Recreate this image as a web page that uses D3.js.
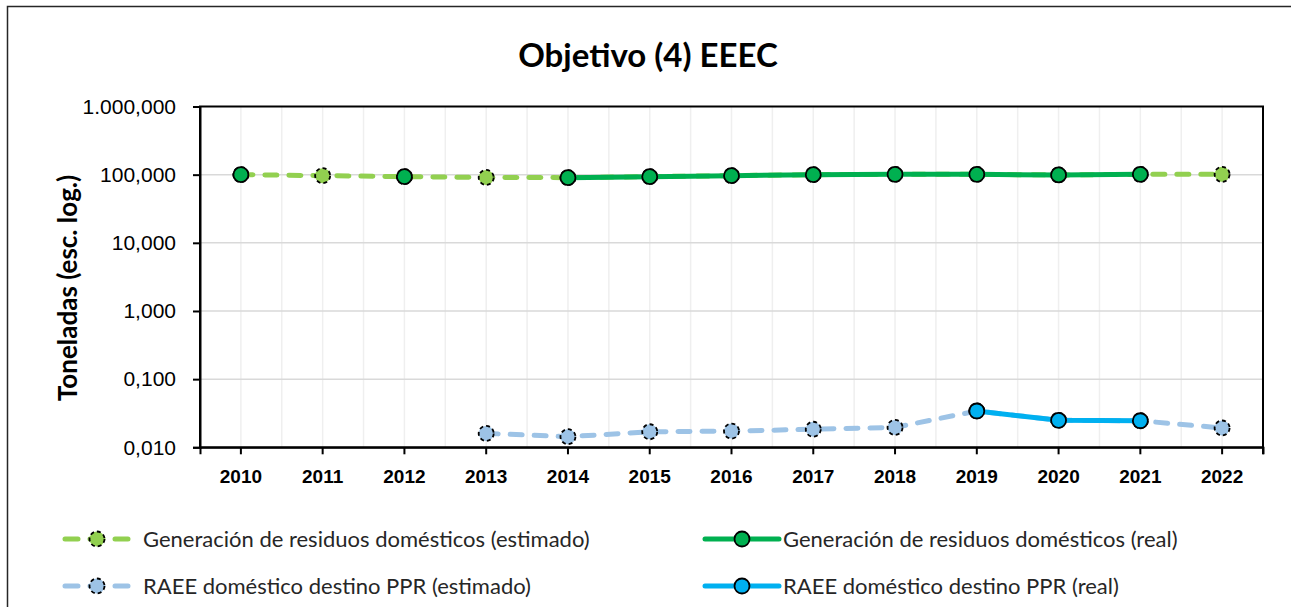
<!DOCTYPE html>
<html>
<head>
<meta charset="utf-8">
<script src="https://cdn.jsdelivr.net/npm/d3@7"></script>
<style>
	body { margin: 0; background: #fff; }
	svg { display: block; font-family: Lato, "Open Sans", sans-serif; }
</style>
</head>
<body>
<svg id="chart" width="1291" height="607"></svg>
<script>
// Data (tonnes, log scale)
const years = [2010, 2011, 2012, 2013, 2014, 2015, 2016, 2017, 2018, 2019, 2020, 2021, 2022];
const genEstimado = [100, 96.7, 93.5, 91, 90.4, 93.5, 96.7, 100, 101, 101, 99, 101, 101];
const genReal = [100, null, 93.5, null, 90.4, 93.5, 96.7, 100, 101, 101, 99, 101, null];
const raeeEstimado = [null, null, null, 0.0160, 0.0143, 0.0169, 0.0173, 0.0184, 0.0196, 0.0341, 0.0249, 0.0245, 0.0192];
const raeeReal = [null, null, null, null, null, null, null, null, null, 0.0341, 0.0249, 0.0245, null];
const yTicks = [0.01, 0.1, 1, 10, 100, 1000];

const seriesNames = [
	"Generación de residuos domésticos (estimado)",
	"Generación de residuos domésticos (real)",
	"RAEE doméstico destino PPR (estimado)",
	"RAEE doméstico destino PPR (real)"
];

const series = [
	{ name: seriesNames[0], values: genEstimado, color: "#92D050", dashed: true },
	{ name: seriesNames[2], values: raeeEstimado, color: "#9DC3E6", dashed: true },
	{ name: seriesNames[1], values: genReal, color: "#00B050", dashed: false },
	{ name: seriesNames[3], values: raeeReal, color: "#00B0F0", dashed: false }
];

const svg = d3.select("#chart");
const plot = { left: 200, top: 106.5, right: 1263, bottom: 447.3 };

// outer frame of the chart (runs past the right and bottom edges)
svg.append("rect")
	.attr("x", 7.5).attr("y", 6.5)
	.attr("width", 1320).attr("height", 640)
	.attr("fill", "none").attr("stroke", "#262626").attr("stroke-width", 1.5);

const x = d3.scaleBand().domain(years).range([plot.left, plot.right]);
const y = d3.scaleLog().domain([0.01, 1000]).range([plot.bottom, plot.top]);
const cx = d => x(d) + x.bandwidth() / 2;

const es = d3.formatLocale({ decimal: ",", thousands: ".", grouping: [3], currency: ["", "€"] });
const fmt = es.format(",.3f");

// vertical gridlines every half category
const vGrid = [];
years.forEach((yr, i) => {
	vGrid.push(cx(yr));
	if (i < years.length - 1) vGrid.push(x(yr) + x.bandwidth());
});
svg.append("g").selectAll("line").data(vGrid).join("line")
	.attr("x1", d => d).attr("x2", d => d)
	.attr("y1", plot.top).attr("y2", plot.bottom)
	.attr("stroke", "#efefef").attr("stroke-width", 1.5);

// horizontal gridlines
svg.append("g").selectAll("line").data(yTicks.slice(1, -1)).join("line")
	.attr("x1", plot.left).attr("x2", plot.right)
	.attr("y1", d => y(d)).attr("y2", d => y(d))
	.attr("stroke", "#d9d9d9").attr("stroke-width", 1.5);

// plot box
svg.append("rect")
	.attr("x", plot.left).attr("y", plot.top)
	.attr("width", plot.right - plot.left).attr("height", plot.bottom - plot.top)
	.attr("fill", "none").attr("stroke", "#000").attr("stroke-width", 2);

// y axis
const yAxis = d3.axisLeft(y).tickValues(yTicks).tickFormat(fmt).tickSize(7).tickPadding(17);
const gy = svg.append("g").attr("transform", `translate(${plot.left},0)`).call(yAxis);
gy.select(".domain").attr("stroke-width", 2);
gy.selectAll(".tick line").attr("stroke-width", 2);
gy.selectAll("text").attr("font-size", 21).attr("fill", "#000");

// x axis
const xAxis = d3.axisBottom(x).tickSize(7).tickPadding(15);
const gx = svg.append("g").attr("transform", `translate(0,${plot.bottom})`).call(xAxis);
gx.select(".domain").attr("stroke-width", 2);
gx.selectAll(".tick line").attr("stroke-width", 2);
gx.selectAll("text").attr("font-size", 19).attr("font-weight", "bold").attr("fill", "#000");
gx.append("line").attr("x1", plot.right).attr("x2", plot.right).attr("y1", 0).attr("y2", 7)
	.attr("stroke", "#000").attr("stroke-width", 2);

// titles
svg.append("text").attr("x", 648).attr("y", 67).attr("text-anchor", "middle")
	.attr("font-size", 33).attr("font-weight", "bold").text("Objetivo (4) EEEC");
svg.append("text")
	.attr("transform", `translate(68,288) rotate(-90)`)
	.attr("text-anchor", "middle").attr("dy", "0.35em").attr("font-size", 26).attr("font-weight", "bold")
	.text("Toneladas (esc. log.)");

// lines and markers
const line = d3.line()
	.defined(d => d.v != null)
	.x(d => cx(d.year))
	.y(d => y(d.v));

series.forEach(s => {
	const pts = years.map((yr, i) => ({ year: yr, v: s.values[i] }));
	svg.append("path").datum(pts)
		.attr("d", line)
		.attr("fill", "none")
		.attr("stroke", s.color)
		.attr("stroke-width", 5)
		.attr("stroke-linecap", "round")
		.attr("stroke-dasharray", s.dashed ? "12,12" : null);
	svg.append("g").selectAll("circle").data(pts.filter(d => d.v != null)).join("circle")
		.attr("cx", d => cx(d.year)).attr("cy", d => y(d.v)).attr("r", 7.5)
		.attr("fill", s.color)
		.attr("stroke", "#000").attr("stroke-width", 1.8)
		.attr("stroke-dasharray", s.dashed ? "4,3" : null);
});

// legend
const legendItems = [
	{ s: series[0], x: 65, y: 539 },
	{ s: series[2], x: 705, y: 539 },
	{ s: series[1], x: 65, y: 586 },
	{ s: series[3], x: 705, y: 586 }
];
const lg = svg.append("g").selectAll("g").data(legendItems).join("g")
	.attr("transform", d => `translate(${d.x},${d.y})`);
lg.each(function(d) {
	const g = d3.select(this);
	const len = d.s.dashed ? 64 : 74;
	g.append("line").attr("x1", 0).attr("x2", len).attr("y1", 0).attr("y2", 0)
		.attr("stroke", d.s.color).attr("stroke-width", 5).attr("stroke-linecap", "round")
		.attr("stroke-dasharray", d.s.dashed ? "13,12" : null);
	g.append("circle").attr("cx", len / 2).attr("cy", 0).attr("r", 7.5)
		.attr("fill", d.s.color).attr("stroke", "#000").attr("stroke-width", 1.8)
		.attr("stroke-dasharray", d.s.dashed ? "4,3" : null);
	g.append("text").attr("x", 78).attr("y", 0).attr("dy", "0.35em")
		.attr("font-size", 22).attr("fill", "#262626").text(d.s.name);
});
</script>
</body>
</html>
